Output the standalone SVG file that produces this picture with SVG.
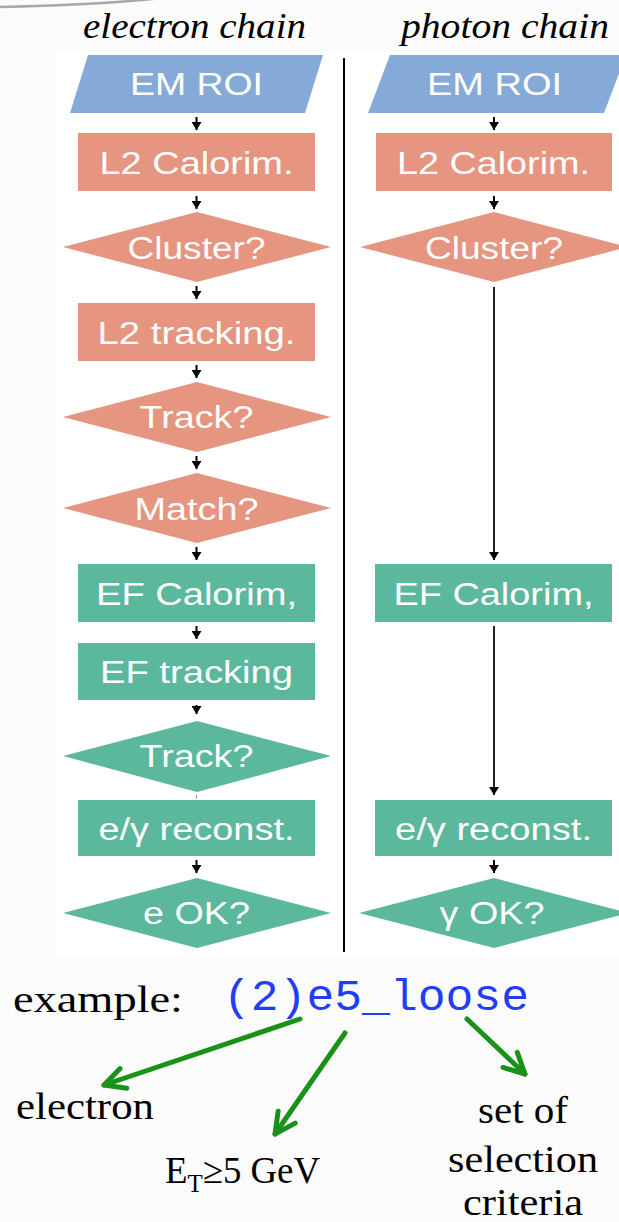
<svg xmlns="http://www.w3.org/2000/svg" width="619" height="1222" viewBox="0 0 619 1222">
<style>
.bg{fill:#fbfbfb}
.ttl{font-family:"Liberation Serif",serif;font-style:italic;font-size:36px;fill:#000}
.nt{font-family:"Liberation Sans",Arial,sans-serif;font-size:31px;fill:#fff;text-anchor:middle}
.blue{fill:#86aad8}
.sal{fill:#e59580}
.grn{fill:#5bb89c}
.ar{stroke:#000;stroke-width:2;fill:none;marker-end:url(#ah)}
.lar{stroke:#222;stroke-width:2;fill:none;marker-end:url(#ah)}
.gar{stroke:#1a921a;stroke-width:5;fill:none;stroke-linecap:round;marker-end:url(#gh)}
.ser{font-family:"Liberation Serif",serif;font-size:37px;fill:#000}
.mono{font-family:"Liberation Mono","Courier New",monospace;font-size:45px;fill:#1f3ef5}
</style>
<defs>
<marker id="ah" viewBox="0 0 10 10" refX="10" refY="5" markerWidth="8" markerHeight="10" markerUnits="userSpaceOnUse" orient="auto" preserveAspectRatio="none"><path d="M0,0 L10,5 L0,10 z" fill="#000"/></marker>
<marker id="gh" viewBox="-4 -4 32 32" refX="22" refY="12" markerWidth="32" markerHeight="32" markerUnits="userSpaceOnUse" orient="auto"><path d="M1.5,1.6 L22,12 L1.5,22.4" fill="none" stroke="#1a921a" stroke-width="5" stroke-linecap="round" stroke-linejoin="round"/></marker>
</defs>
<rect class="bg" x="0" y="0" width="619" height="1222"/>
<rect x="55" y="52" width="564" height="904" fill="#fff"/>
<path d="M0,7 C50,6 110,4 172,-3" stroke="#a8a8a8" stroke-width="2.5" fill="none"/>

<g id="titles">
<text class="ttl" x="83" y="38" textLength="223" lengthAdjust="spacingAndGlyphs">electron chain</text>
<text class="ttl" x="401" y="38" textLength="208" lengthAdjust="spacingAndGlyphs">photon chain</text>
</g>

<g id="divider"><line x1="344" y1="58" x2="344" y2="952" stroke="#000" stroke-width="2"/></g>

<g id="e-emroi"><polygon class="blue" points="88,55 323,55 305,113 70,113"/><text class="nt" x="196.5" y="95" textLength="133" lengthAdjust="spacingAndGlyphs">EM ROI</text></g>
<g id="e-l2calo"><rect class="sal" x="78" y="133" width="237" height="58"/><text class="nt" x="196.5" y="174" textLength="194" lengthAdjust="spacingAndGlyphs">L2 Calorim.</text></g>
<g id="e-cluster"><polygon class="sal" points="63,247 197,212 331,247 197,282"/><text class="nt" x="196.5" y="259" textLength="138" lengthAdjust="spacingAndGlyphs">Cluster?</text></g>
<g id="e-l2trk"><rect class="sal" x="78" y="303" width="237" height="58"/><text class="nt" x="196.5" y="344" textLength="198" lengthAdjust="spacingAndGlyphs">L2 tracking.</text></g>
<g id="e-track1"><polygon class="sal" points="63,417 197,382 331,417 197,452"/><text class="nt" x="196.5" y="428" textLength="114" lengthAdjust="spacingAndGlyphs">Track?</text></g>
<g id="e-match"><polygon class="sal" points="63,508 197,473 331,508 197,543"/><text class="nt" x="196.5" y="520" textLength="124" lengthAdjust="spacingAndGlyphs">Match?</text></g>
<g id="e-efcalo"><rect class="grn" x="78" y="564" width="237" height="58"/><text class="nt" x="196.5" y="605" textLength="201" lengthAdjust="spacingAndGlyphs">EF Calorim,</text></g>
<g id="e-eftrk"><rect class="grn" x="78" y="643" width="237" height="57"/><text class="nt" x="196.5" y="683" textLength="193" lengthAdjust="spacingAndGlyphs">EF tracking</text></g>
<g id="e-track2"><polygon class="grn" points="63,756 197,721 331,756 197,792"/><text class="nt" x="196.5" y="767" textLength="114" lengthAdjust="spacingAndGlyphs">Track?</text></g>
<g id="e-reco"><rect class="grn" x="78" y="800" width="237" height="56"/><text class="nt" x="196.5" y="840" textLength="196" lengthAdjust="spacingAndGlyphs">e/γ reconst.</text></g>
<g id="e-ok"><polygon class="grn" points="63,913 197,878 331,913 197,948"/><text class="nt" x="196.5" y="924" textLength="107" lengthAdjust="spacingAndGlyphs">e OK?</text></g>

<g id="p-emroi"><polygon class="blue" points="390,55 626,55 604,113 368,113"/><text class="nt" x="494.5" y="95" textLength="135" lengthAdjust="spacingAndGlyphs">EM ROI</text></g>
<g id="p-l2calo"><rect class="sal" x="376" y="133" width="236" height="58"/><text class="nt" x="493.5" y="174" textLength="193" lengthAdjust="spacingAndGlyphs">L2 Calorim.</text></g>
<g id="p-cluster"><polygon class="sal" points="360,247 494,212 628,247 494,282"/><text class="nt" x="494" y="259" textLength="138" lengthAdjust="spacingAndGlyphs">Cluster?</text></g>
<g id="p-efcalo"><rect class="grn" x="375" y="564" width="237" height="58"/><text class="nt" x="493.5" y="605" textLength="200" lengthAdjust="spacingAndGlyphs">EF Calorim,</text></g>
<g id="p-reco"><rect class="grn" x="375" y="800" width="237" height="56"/><text class="nt" x="493.5" y="840" textLength="197" lengthAdjust="spacingAndGlyphs">e/γ reconst.</text></g>
<g id="p-ok"><polygon class="grn" points="359,913 494,878 629,913 494,948"/><text class="nt" x="492" y="924" textLength="105" lengthAdjust="spacingAndGlyphs">γ OK?</text></g>

<g id="connectors">
<line class="ar" x1="196.5" y1="117" x2="196.5" y2="130"/>
<line class="ar" x1="196.5" y1="196" x2="196.5" y2="209"/>
<line class="ar" x1="196.5" y1="286" x2="196.5" y2="299"/>
<line class="ar" x1="196.5" y1="365" x2="196.5" y2="378"/>
<line class="ar" x1="196.5" y1="456" x2="196.5" y2="469"/>
<line class="ar" x1="196.5" y1="547" x2="196.5" y2="560"/>
<line class="ar" x1="196.5" y1="626" x2="196.5" y2="639"/>
<line class="ar" x1="196.5" y1="705" x2="196.5" y2="714"/>
<line x1="196.5" y1="795" x2="196.5" y2="799" stroke="#999" stroke-width="1"/>
<line class="ar" x1="196.5" y1="860" x2="196.5" y2="873"/>
<line class="ar" x1="494" y1="117" x2="494" y2="130"/>
<line class="ar" x1="494" y1="196" x2="494" y2="209"/>
<line class="lar" x1="494" y1="287" x2="494" y2="560"/>
<line class="lar" x1="494" y1="626" x2="494" y2="795"/>
<line class="ar" x1="494" y1="860" x2="494" y2="873"/>
<line class="gar" x1="300" y1="1019" x2="104" y2="1085"/>
<line class="gar" x1="345" y1="1033" x2="275" y2="1134"/>
<line class="gar" x1="467" y1="1019" x2="525" y2="1074"/>
</g>

<g id="example">
<text class="ser" x="13" y="1012" font-size="45" textLength="170" lengthAdjust="spacingAndGlyphs">example:</text>
<text class="mono" x="223" y="1010" textLength="306" lengthAdjust="spacingAndGlyphs">(2)e5_loose</text>
</g>
<g id="lbl-electron"><text class="ser" x="16" y="1119" textLength="138" lengthAdjust="spacingAndGlyphs">electron</text></g>
<g id="lbl-et"><text class="ser" x="165" y="1183" textLength="155" lengthAdjust="spacingAndGlyphs">E<tspan dy="9" font-size="25">T</tspan><tspan dy="-9">≥5 GeV</tspan></text></g>
<g id="lbl-sel">
<text class="ser" x="478" y="1123" textLength="90" lengthAdjust="spacingAndGlyphs">set of</text>
<text class="ser" x="448" y="1172" textLength="150" lengthAdjust="spacingAndGlyphs">selection</text>
<text class="ser" x="463" y="1215" textLength="120" lengthAdjust="spacingAndGlyphs">criteria</text>
</g>
</svg>
